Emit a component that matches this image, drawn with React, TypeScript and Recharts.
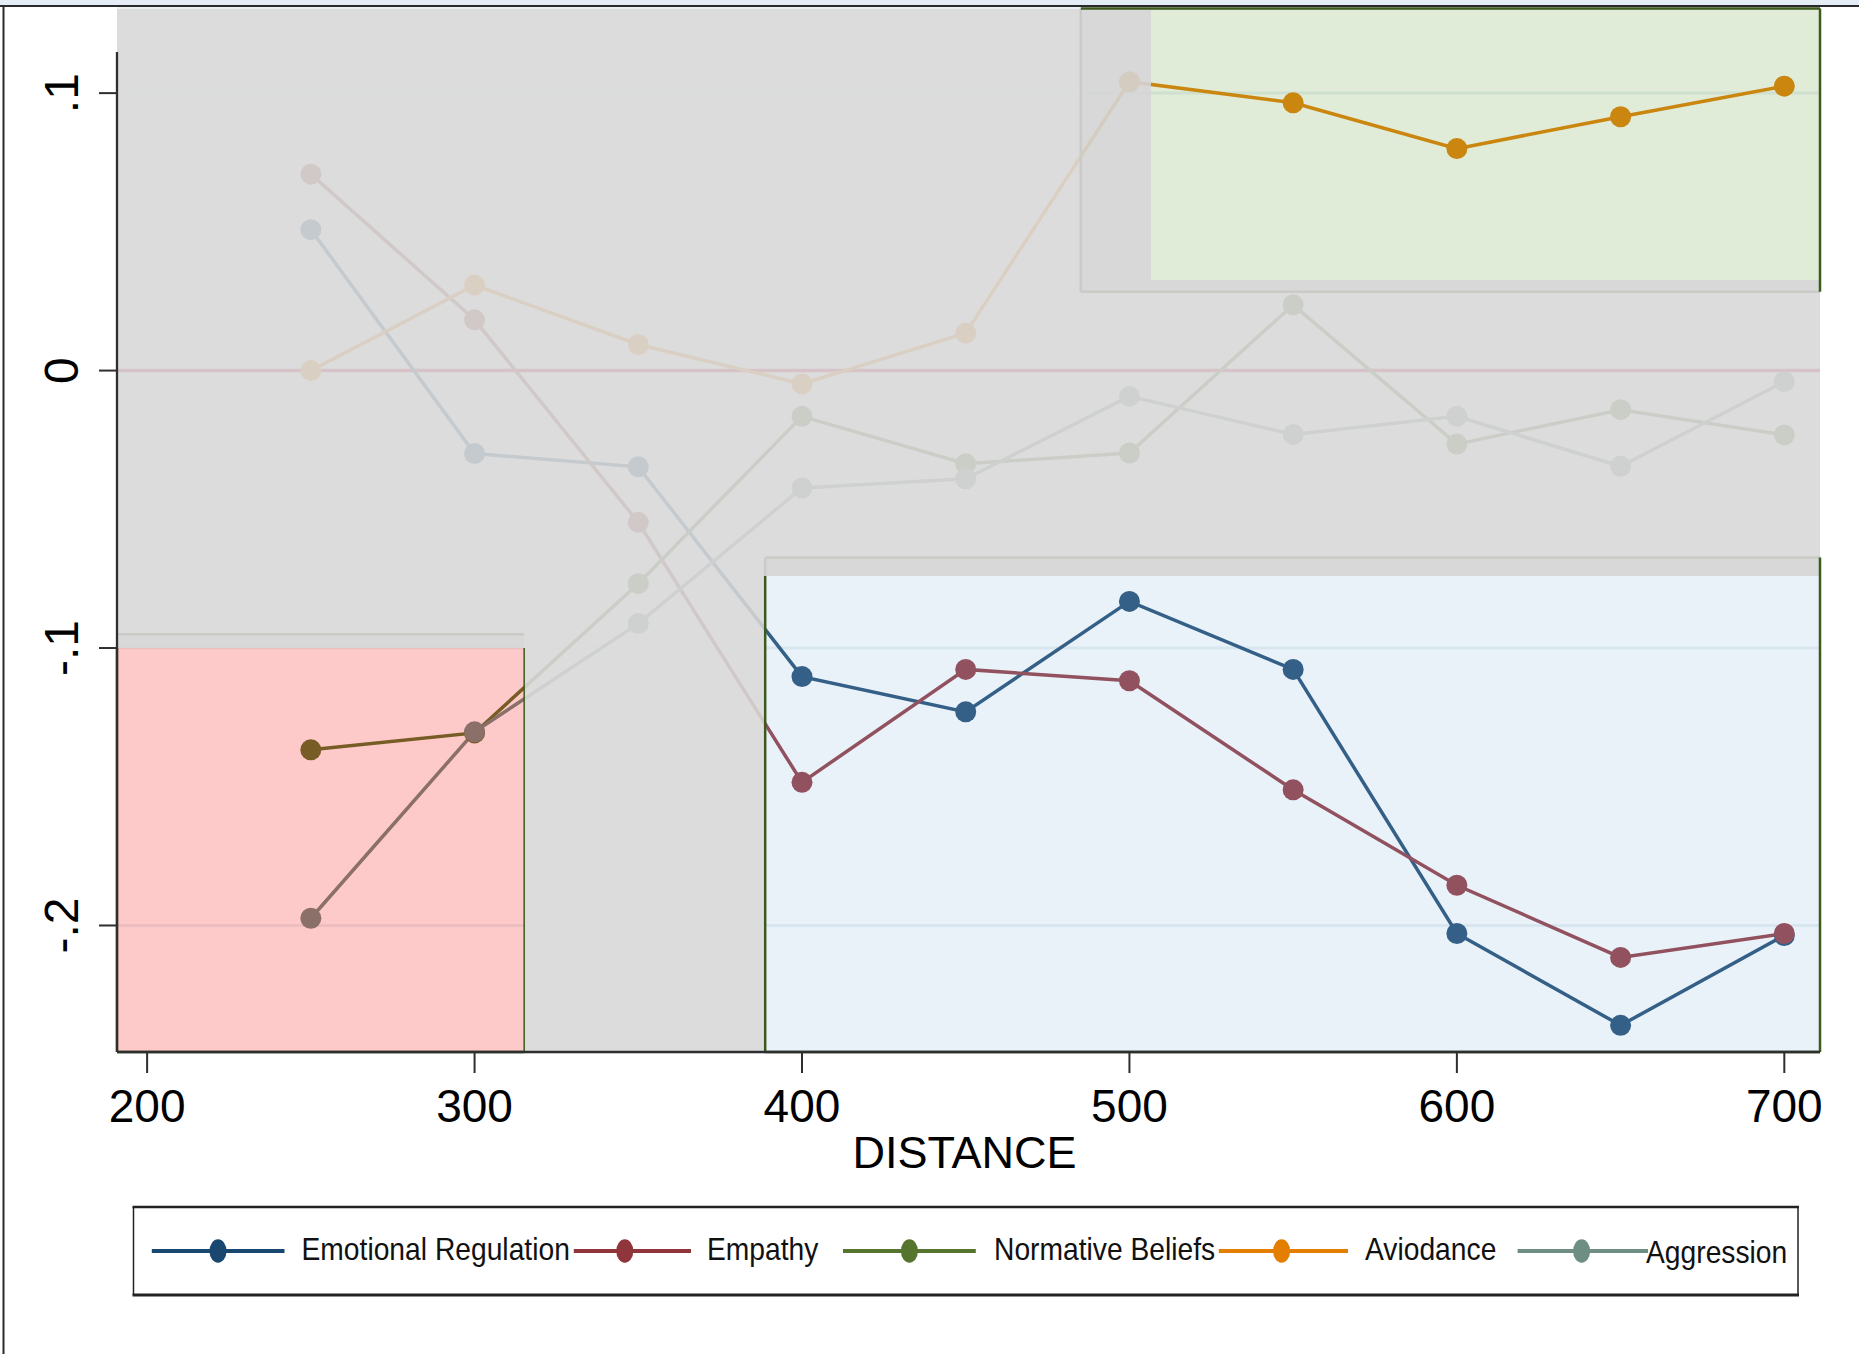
import React from "react";
import {
  LineChart,
  Line,
  XAxis,
  YAxis,
  CartesianGrid,
  ReferenceArea,
  ReferenceLine,
} from "recharts";

// values
const distance = [250, 300, 350, 400, 450, 500, 550, 600, 650, 700];
const emotionalRegulation = [0.0508, -0.0299, -0.0347, -0.1103, -0.123, -0.0832, -0.1077, -0.2029, -0.236, -0.2036];
const empathy = [0.0708, 0.0183, -0.0547, -0.1484, -0.1077, -0.1118, -0.1511, -0.1855, -0.2115, -0.2029];
const normativeBeliefs = [-0.1367, -0.1306, -0.0768, -0.0165, -0.0336, -0.0297, 0.0237, -0.0265, -0.0141, -0.0232];
const aviodance = [0.0, 0.0308, 0.0094, -0.0048, 0.0135, 0.1041, 0.0965, 0.08, 0.0915, 0.1025];
const aggression = [-0.1974, -0.1302, -0.0912, -0.0423, -0.039, -0.0093, -0.023, -0.0165, -0.0345, -0.004];

const seriesKeys = ["emotionalRegulation", "empathy", "normativeBeliefs", "aviodance", "aggression"];
const seriesNames = ["Emotional Regulation", "Empathy", "Normative Beliefs", "Aviodance", "Aggression"];
const seriesColors = ["#1a476f", "#90353b", "#55752f", "#e37e00", "#6e8e84"];

const xTicks = [200, 300, 400, 500, 600, 700];
const yTicks = [0.1, 0, -0.1, -0.2];
const yTickLabels = [".1", "0", "-.1", "-.2"];

const data = distance.map((d, i) => ({
  distance: d,
  emotionalRegulation: emotionalRegulation[i],
  empathy: empathy[i],
  normativeBeliefs: normativeBeliefs[i],
  aviodance: aviodance[i],
  aggression: aggression[i],
}));

// plot region and highlighted boxes, in data units
const X_MIN = 190.8;
const X_MAX = 710.9;
const Y_MIN = -0.2456;
const Y_MAX = 0.1305;
const Y_AXIS_TOP = 0.1148;

const PINK_X2 = 315.15;
const PINK_TOP = -0.1;
const PINK_BAND = -0.095;
const BLUE_X1 = 388.76;
const BLUE_TOP = -0.074;
const BLUE_BAND = -0.0674;
const GREEN_X1 = 506.6;
const GREEN_BOTTOM = 0.0326;
const GREEN_BAND_X = 485.15;
const GREEN_BAND_Y = 0.0284;

const FONT = "'Liberation Sans', Arial, sans-serif";
const AXIS = "#2e2e2e";
const BORDER = "#3c5a1c";
const BAND_LINE = "#cacbc6";

const XTick = (props: any) => {
  const { x, y, payload } = props;
  return (
    <text x={x} y={y} dy={49} textAnchor="middle" fontSize={46} fontFamily={FONT} fill="#000">
      {payload.value}
    </text>
  );
};

const YTick = (props: any) => {
  const { x, y, payload } = props;
  const idx = yTicks.indexOf(payload.value);
  const label = idx >= 0 ? yTickLabels[idx] : String(payload.value);
  return (
    <g transform={`translate(${x - 21.5}, ${y}) rotate(-90)`}>
      <text x={0} y={0} textAnchor="middle" fontSize={48} fontFamily={FONT} fill="#000">
        {label}
      </text>
    </g>
  );
};

const AxisTitle = (props: any) => {
  const vb = props.viewBox || { x: 117, y: 1052, width: 1703, height: 100 };
  return (
    <text x={vb.x + vb.width / 2 - 4} y={vb.y + 116} textAnchor="middle" fontSize={45} fontFamily={FONT} fill="#000">
      DISTANCE
    </text>
  );
};

const legendLayout = [
  { x1: 151.8, x2: 284.5, mx: 218, tx: 301.5, dy: 0 },
  { x1: 573.8, x2: 691, mx: 624.8, tx: 707, dy: 0 },
  { x1: 843, x2: 975.8, mx: 909.4, tx: 994, dy: 0 },
  { x1: 1218.8, x2: 1348, mx: 1281.6, tx: 1365, dy: 0 },
  { x1: 1517.6, x2: 1648, mx: 1581.6, tx: 1646, dy: 3 },
];

function Overlay() {
  return (
    <svg width={1859} height={1354} style={{ position: "absolute", left: 0, top: 0, pointerEvents: "none" }}>
      {/* outer frame */}
      <rect x={0} y={0} width={1859} height={5} fill="#e4ecf5" />
      <rect x={0} y={5} width={1859} height={2} fill="#2a2a2a" />
      <rect x={2.5} y={5} width={2} height={1349} fill="#2a2a2a" />

      {/* legend */}
      <rect x={133.5} y={1207} width={1664.5} height={87.5} fill="#fff" />
      <line x1={132.5} x2={1799} y1={1207} y2={1207} stroke="#222" strokeWidth={2.5} />
      <line x1={132.5} x2={1799} y1={1295} y2={1295} stroke="#222" strokeWidth={3} />
      <line x1={133.5} x2={133.5} y1={1207} y2={1295} stroke="#222" strokeWidth={1.5} />
      <line x1={1798} x2={1798} y1={1207} y2={1295} stroke="#222" strokeWidth={1.5} />
      {legendLayout.map((l, i) => (
        <g key={seriesKeys[i]}>
          <line x1={l.x1} x2={l.x2} y1={1251} y2={1251} stroke={seriesColors[i]} strokeWidth={4} />
          <ellipse cx={l.mx} cy={1251} rx={8.5} ry={11.8} fill={seriesColors[i]} />
          <text
            transform={`translate(${l.tx}, ${1259.5 + l.dy}) scale(0.92, 1)`}
            fontSize={30.7}
            fontFamily={FONT}
            fill="#111"
          >
            {seriesNames[i]}
          </text>
        </g>
      ))}
    </svg>
  );
}

export default function App() {
  const grayTiles = [
    { x1: X_MIN, x2: PINK_X2, y1: PINK_TOP, y2: Y_MAX },
    { x1: PINK_X2, x2: BLUE_X1, y1: Y_MIN, y2: Y_MAX },
    { x1: BLUE_X1, x2: GREEN_X1, y1: BLUE_TOP, y2: Y_MAX },
    { x1: GREEN_X1, x2: X_MAX, y1: BLUE_TOP, y2: GREEN_BOTTOM },
  ];
  const bands = [
    { x1: X_MIN, x2: PINK_X2, y1: PINK_TOP, y2: PINK_BAND },
    { x1: BLUE_X1, x2: X_MAX, y1: BLUE_TOP, y2: BLUE_BAND },
    { x1: GREEN_BAND_X, x2: GREEN_X1, y1: GREEN_BAND_Y, y2: Y_MAX },
    { x1: GREEN_X1, x2: X_MAX, y1: GREEN_BAND_Y, y2: GREEN_BOTTOM },
  ];
  const bandLines = [
    [{ x: X_MIN, y: PINK_BAND }, { x: PINK_X2, y: PINK_BAND }],
    [{ x: BLUE_X1, y: BLUE_BAND }, { x: X_MAX, y: BLUE_BAND }],
    [{ x: BLUE_X1, y: BLUE_BAND }, { x: BLUE_X1, y: BLUE_TOP }],
    [{ x: GREEN_BAND_X, y: GREEN_BAND_Y }, { x: GREEN_BAND_X, y: Y_MAX }],
    [{ x: GREEN_BAND_X, y: GREEN_BAND_Y }, { x: X_MAX, y: GREEN_BAND_Y }],
  ];
  const borders = [
    { seg: [{ x: X_MIN, y: PINK_TOP }, { x: X_MIN, y: Y_MIN }], w: 2.5 },
    { seg: [{ x: X_MIN, y: Y_MIN }, { x: PINK_X2, y: Y_MIN }], w: 2.5 },
    { seg: [{ x: PINK_X2, y: PINK_TOP }, { x: PINK_X2, y: Y_MIN }], w: 1.5 },
    { seg: [{ x: BLUE_X1, y: BLUE_TOP }, { x: BLUE_X1, y: Y_MIN }], w: 2.5 },
    { seg: [{ x: BLUE_X1, y: Y_MIN }, { x: X_MAX, y: Y_MIN }], w: 2.5 },
    { seg: [{ x: X_MAX, y: BLUE_BAND }, { x: X_MAX, y: Y_MIN }], w: 2.5 },
    { seg: [{ x: GREEN_BAND_X, y: Y_MAX }, { x: X_MAX, y: Y_MAX }], w: 2.5 },
    { seg: [{ x: X_MAX, y: Y_MAX }, { x: X_MAX, y: GREEN_BAND_Y }], w: 2.5 },
  ];

  return (
    <div style={{ position: "absolute", left: 0, top: 0, width: 1859, height: 1354, background: "#fff" }}>
      <LineChart
        width={1859}
        height={1354}
        data={data}
        margin={{ top: 8.5, right: 39, bottom: 202, left: 0 }}
      >
        <CartesianGrid horizontal vertical={false} stroke="#eaf1f3" strokeWidth={3} zIndex={-100} />
        <ReferenceLine y={0} stroke="#c4002c" strokeWidth={3.5} ifOverflow="visible" zIndex={350} />

        {seriesKeys.map((key, i) => (
          <Line
            key={key}
            type="linear"
            dataKey={key}
            name={seriesNames[i]}
            stroke={seriesColors[i]}
            strokeWidth={3.5}
            dot={{ r: 10.5, fill: seriesColors[i], stroke: seriesColors[i], strokeWidth: 0 }}
            activeDot={false}
            isAnimationActive={false}
            zIndex={400}
          />
        ))}

        {grayTiles.map((t, i) => (
          <ReferenceArea
            key={`gray-${i}`}
            {...t}
            fill="#d8d8d8"
            fillOpacity={0.9}
            stroke="none"
            ifOverflow="visible"
            shapeRendering="crispEdges"
            zIndex={600}
          />
        ))}

        <ReferenceArea x1={X_MIN} x2={PINK_X2} y1={Y_MIN} y2={PINK_TOP} fill="rgb(245,0,0)" fillOpacity={0.21} stroke="none" ifOverflow="visible" shapeRendering="crispEdges" zIndex={610} />
        <ReferenceArea x1={BLUE_X1} x2={X_MAX} y1={Y_MIN} y2={BLUE_TOP} fill="rgb(150,188,226)" fillOpacity={0.21} stroke="none" ifOverflow="visible" shapeRendering="crispEdges" zIndex={610} />
        <ReferenceArea x1={GREEN_X1} x2={X_MAX} y1={GREEN_BOTTOM} y2={Y_MAX} fill="rgb(107,164,69)" fillOpacity={0.21} stroke="none" ifOverflow="visible" shapeRendering="crispEdges" zIndex={610} />

        {bands.map((b, i) => (
          <ReferenceArea
            key={`band-${i}`}
            {...b}
            fill="#b8bab4"
            fillOpacity={0.12}
            stroke="none"
            ifOverflow="visible"
            shapeRendering="crispEdges"
            zIndex={620}
          />
        ))}
        {bandLines.map((seg, i) => (
          <ReferenceLine key={`bl-${i}`} segment={seg} stroke={BAND_LINE} strokeWidth={2.5} ifOverflow="visible" zIndex={630} />
        ))}
        {borders.map((b, i) => (
          <ReferenceLine key={`bd-${i}`} segment={b.seg} stroke={BORDER} strokeWidth={b.w} ifOverflow="visible" zIndex={640} />
        ))}

        <XAxis
          dataKey="distance"
          type="number"
          domain={[X_MIN, X_MAX]}
          allowDataOverflow
          ticks={xTicks}
          interval={0}
          height={100}
          tickSize={21}
          tickMargin={0}
          axisLine={{ stroke: AXIS, strokeWidth: 2.3 }}
          tickLine={{ stroke: AXIS, strokeWidth: 2 }}
          tick={(p: any) => <XTick {...p} />}
          label={{ content: (p: any) => <AxisTitle {...p} /> }}
          zIndex={700}
        />
        <YAxis
          type="number"
          domain={[Y_MIN, Y_MAX]}
          allowDataOverflow
          ticks={yTicks}
          interval={0}
          width={117}
          tickSize={18}
          tickMargin={0}
          axisLine={false}
          tickLine={{ stroke: AXIS, strokeWidth: 2 }}
          tick={(p: any) => <YTick {...p} />}
          zIndex={700}
        />
        <ReferenceLine
          segment={[{ x: X_MIN, y: Y_AXIS_TOP }, { x: X_MIN, y: Y_MIN }]}
          stroke={AXIS}
          strokeWidth={2.3}
          ifOverflow="visible"
          zIndex={710}
        />
      </LineChart>
      <Overlay />
    </div>
  );
}
